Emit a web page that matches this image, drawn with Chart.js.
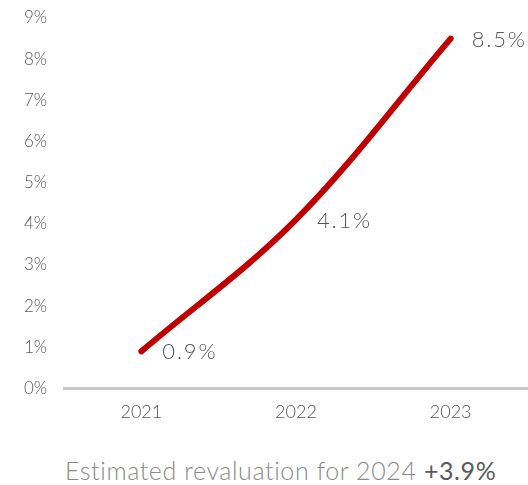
<!DOCTYPE html>
<html>
<head>
<meta charset="utf-8">
<script src="https://cdn.jsdelivr.net/npm/chart.js@4"></script>
<style>
  html, body { margin:0; padding:0; background:#fff; }
  #wrap { width:528px; height:436px; position:relative; }
  #note { position:absolute; left:0; top:455px; width:528px; padding-left:65px; box-sizing:border-box;
          font-family:Lato, "Open Sans", sans-serif; font-weight:300; font-size:25px; color:#8a8a8a; letter-spacing:0.6px; }
  #note b { font-weight:400; color:#5a5a5a; }
</style>
</head>
<body>
<div id="wrap"><canvas id="c" width="528" height="436"></canvas></div>
<div id="note">Estimated revaluation for 2024 <b>+3.9%</b></div>
<script>
const years = ['2021', '2022', '2023'];
const revaluation = [0.9, 4.1, 8.5];
const valueLabels = ['0.9%', '4.1%', '8.5%'];

// etiquetas de valor a la derecha de cada punto
const pointLabels = {
  id: 'pointLabels',
  afterDatasetsDraw(chart){
    const ctx = chart.ctx;
    const pts = chart.getDatasetMeta(0).data;
    ctx.save();
    ctx.font = '300 22px Lato, "Open Sans", sans-serif';
    ctx.fillStyle = '#555';
    ctx.letterSpacing = '1.8px';
    ctx.textAlign = 'left';
    ctx.textBaseline = 'middle';
    pts.forEach((p, i) => ctx.fillText(valueLabels[i], p.x + 21, p.y + 1));
    ctx.restore();
  }
};

new Chart(document.getElementById('c'), {
  type: 'line',
  data: {
    labels: years,
    datasets: [{
      data: revaluation,
      borderColor: '#c00000',
      borderWidth: 6,
      borderCapStyle: 'round',
      tension: 0.35,
      pointRadius: 0,
      fill: false
    }]
  },
  options: {
    responsive: false,
    animation: false,
    layout: { padding: { top: 18, right: 0, bottom: 0, left: 0 } },
    plugins: { legend: { display: false }, tooltip: { enabled: false } },
    scales: {
      x: {
        offset: true,
        grid: { display: false, drawTicks: false },
        border: { color: '#c8c8c8', width: 3 },
        ticks: { color: '#555', padding: 13, font: { family: 'Lato, "Open Sans", sans-serif', size: 18, weight: 300 } }
      },
      y: {
        min: 0, max: 9,
        afterFit: s => { s.width = 64; },
        // marcas invisibles para separar las etiquetas del eje
        grid: { display: true, drawOnChartArea: false, drawTicks: true, tickLength: 17, color: 'transparent' },
        border: { display: false },
        ticks: {
          stepSize: 1, padding: 0, color: '#5a5a5a',
          font: { family: 'Lato, "Open Sans", sans-serif', size: 17, weight: 300 },
          callback: v => v + '%'
        }
      }
    }
  },
  plugins: [pointLabels]
});
</script>
</body>
</html>
